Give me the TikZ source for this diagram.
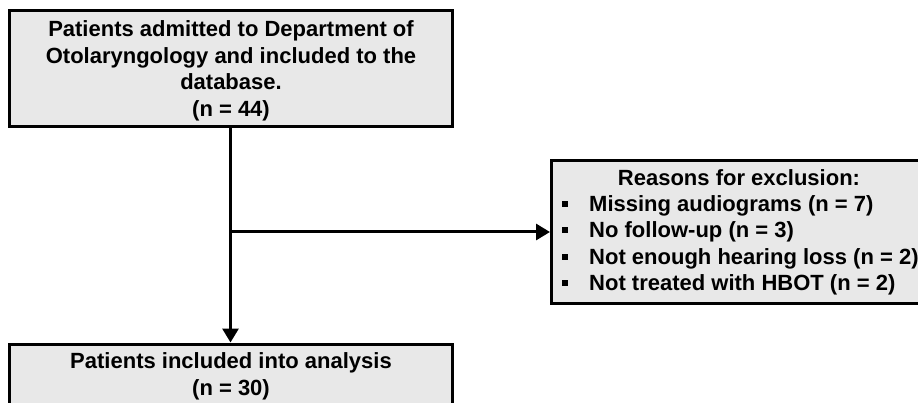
\documentclass[tikz,border=0pt]{standalone}
\usepackage{fontspec}
\setmainfont{Liberation Sans}
\usetikzlibrary{arrows.meta}
\definecolor{boxfill}{HTML}{E8E8E8}
\newcommand{\sqbullet}{\llap{\raisebox{4.5pt}{\rule{6pt}{6pt}}\hspace{21pt}}}
\begin{document}
\begin{tikzpicture}[x=1pt,y=-1pt,
  box/.style={draw=black, fill=boxfill, line width=3pt, rectangle, inner sep=0pt},
  txt/.style={inner sep=0pt, font=\fontsize{22}{26}\selectfont\bfseries},
  conn/.style={line width=3pt, -{Triangle[length=14pt,width=16pt]}}]
\useasboundingbox (0,0) rectangle (918,403);
\clip (0,0) rectangle (918,403);
% boxes
\node[box, minimum width=443pt, minimum height=116pt] (top) at (230.5,69) {};
\node[box, minimum width=443pt, minimum height=86pt] (bot) at (230.5,387) {};
\node[box, minimum width=378.5pt, minimum height=143pt] (rb) at (740.75,232) {};
% top box text
\node[txt, anchor=base] (t1) at (231,37) {Patients admitted to Department of};
\node[txt, anchor=base] (t2) at (231,63.5) {Otolaryngology and included to the};
\node[txt, anchor=base] (t3) at (231,90) {database.};
\node[txt, anchor=base] (t4) at (231,116.5) {(n = 44)};
% bottom box text
\node[txt, anchor=base] (b1) at (231,368) {Patients included into analysis};
\node[txt, anchor=base] (b2) at (231,395) {(n = 30)};
% right box text
\node[txt, anchor=base] (r0) at (739,185.5) {Reasons for exclusion:};
\node[txt, anchor=base west] (r1) at (589,211.7) {\sqbullet Missing audiograms (n = 7)};
\node[txt, anchor=base west] (r2) at (589,238) {\sqbullet No follow-up (n = 3)};
\node[txt, anchor=base west] (r3) at (589,264.3) {\sqbullet Not enough hearing loss (n = 2)};
\node[txt, anchor=base west] (r4) at (589,290.5) {\sqbullet Not treated with HBOT (n = 2)};
% connectors
\coordinate (j) at (top.south |- rb.west);
\draw[conn] (top.south) -- (bot.north);
\draw[conn] (j) -- (rb.west);
\end{tikzpicture}
\end{document}
